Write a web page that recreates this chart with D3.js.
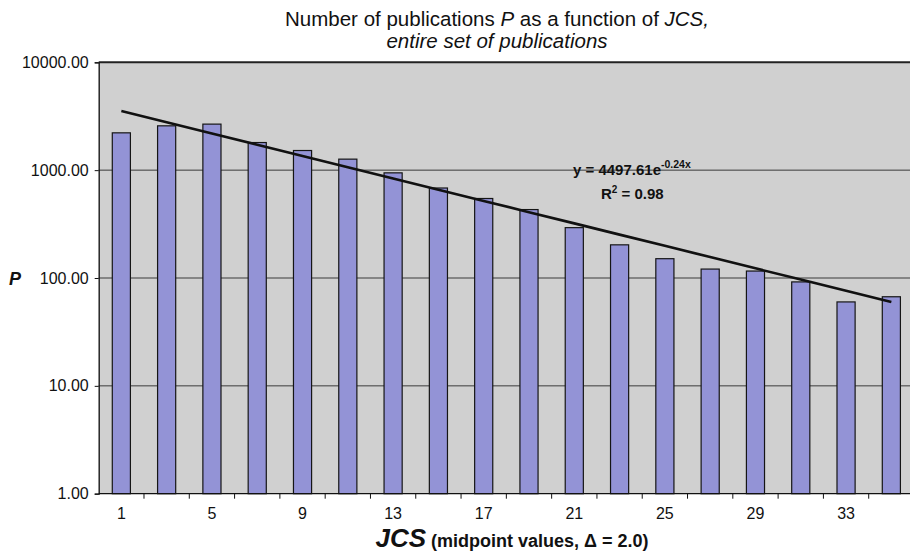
<!DOCTYPE html>
<html>
<head>
<meta charset="utf-8">
<script src="https://cdn.jsdelivr.net/npm/d3@7"></script>
<style>
  body { margin: 0; background: #fff; }
  svg { display: block; font-family: Arial, "Liberation Sans", sans-serif; }
</style>
</head>
<body>
<svg id="chart" width="910" height="553"></svg>
<script>
// JCS midpoints (bin width 2.0)
const categories = [1, 3, 5, 7, 9, 11, 13, 15, 17, 19, 21, 23, 25, 27, 29, 31, 33, 35];
// number of publications per bin
const pubCounts = [2218, 2576, 2672, 1803, 1521, 1265, 944, 683, 546, 431, 293, 203, 151, 121, 116, 92, 60, 67];
const xTickLabels = [1, 5, 9, 13, 17, 21, 25, 29, 33];
const yTicks = [1, 10, 100, 1000, 10000];
// exponential trend shown on the chart: y = a * e^(b*x), x = bin index
const trendA = 4497.61;
const trendB = -0.24;

const svg = d3.select("#chart");
const margin = { top: 62.3, left: 98.7, right: -4, bottom: 59.3 };
const W = 910, H = 553;

const x = d3.scaleBand()
    .domain(categories)
    .range([margin.left, W - margin.right])
    .paddingInner(0.6)
    .paddingOuter(0.3);

const y = d3.scaleLog()
    .domain([1, 10000])
    .range([H - margin.bottom, margin.top]);

// plot background
svg.append("rect")
    .attr("x", margin.left)
    .attr("y", margin.top)
    .attr("width", W - margin.right - margin.left)
    .attr("height", y(1) - y(10000))
    .attr("fill", "#d0d0d0");

// gridlines at the decades
svg.append("g")
    .selectAll("line")
    .data(yTicks.slice(1))
    .join("line")
    .attr("x1", margin.left)
    .attr("x2", W - margin.right)
    .attr("y1", d => y(d))
    .attr("y2", d => y(d))
    .attr("stroke", d => d === 10000 ? "#222" : "#3a3a3a")
    .attr("stroke-width", d => d === 10000 ? 2 : 1);

// bars
svg.append("g")
    .selectAll("rect")
    .data(categories)
    .join("rect")
    .attr("x", d => x(d))
    .attr("width", x.bandwidth())
    .attr("y", (d, i) => y(pubCounts[i]))
    .attr("height", (d, i) => y(1) - y(pubCounts[i]))
    .attr("fill", "#9393d6")
    .attr("stroke", "#151515")
    .attr("stroke-width", 1.2);

// trend line
const trend = d3.line()
    .x(d => x(d) + x.bandwidth() / 2)
    .y((d, i) => y(trendA * Math.exp(trendB * (i + 1))));
svg.append("path")
    .datum(categories)
    .attr("d", trend)
    .attr("fill", "none")
    .attr("stroke", "#111")
    .attr("stroke-width", 2.6);

// y axis
const yAxis = d3.axisLeft(y)
    .tickValues(yTicks)
    .tickSize(4)
    .tickPadding(6)
    .tickFormat(d3.format(".2f"));
const gy = svg.append("g")
    .attr("transform", `translate(${margin.left},0)`)
    .call(yAxis);
gy.select(".domain").attr("stroke", "#111").attr("stroke-width", 1.3);
gy.selectAll(".tick line").attr("stroke", "#111");
gy.selectAll("text")
    .attr("font-size", 16)
    .attr("font-family", "Arial, 'Liberation Sans', sans-serif")
    .attr("fill", "#111");

// x axis: ticks between categories, labels under every other bin
const xBase = y(1);
const gx = svg.append("g");
gx.append("line")
    .attr("x1", margin.left).attr("x2", W - margin.right)
    .attr("y1", xBase).attr("y2", xBase)
    .attr("stroke", "#111").attr("stroke-width", 1.3);
gx.selectAll(".xtick")
    .data(categories.slice(1))
    .join("line")
    .attr("class", "xtick")
    .attr("x1", d => x(d) - x.step() * x.paddingInner() / 2)
    .attr("x2", d => x(d) - x.step() * x.paddingInner() / 2)
    .attr("y1", xBase).attr("y2", xBase + 5)
    .attr("stroke", "#111");
gx.selectAll(".xlab")
    .data(xTickLabels)
    .join("text")
    .attr("class", "xlab")
    .attr("x", d => x(d) + x.bandwidth() / 2)
    .attr("y", 518.5)
    .attr("text-anchor", "middle")
    .attr("font-size", 16)
    .attr("fill", "#111")
    .text(d => d);

// title
const title = svg.append("g")
    .attr("text-anchor", "middle")
    .attr("font-size", 20.5)
    .attr("fill", "#111");
const t1 = title.append("text").attr("x", 497).attr("y", 25.5);
t1.append("tspan").text("Number of publications ");
t1.append("tspan").attr("font-style", "italic").text("P");
t1.append("tspan").text(" as a function of ");
t1.append("tspan").attr("font-style", "italic").text("JCS,");
title.append("text")
    .attr("x", 497).attr("y", 48)
    .attr("font-style", "italic")
    .text("entire set of publications");

// axis titles
const xTitle = svg.append("text")
    .attr("x", 512)
    .attr("y", 547)
    .attr("text-anchor", "middle")
    .attr("font-weight", "bold")
    .attr("fill", "#111");
xTitle.append("tspan").attr("font-size", 26).attr("font-style", "italic").text("JCS");
xTitle.append("tspan").attr("font-size", 18).text(" (midpoint values, \u0394 = 2.0)");

svg.append("text")
    .attr("x", 15)
    .attr("y", 285)
    .attr("text-anchor", "middle")
    .attr("font-size", 18)
    .attr("font-weight", "bold")
    .attr("font-style", "italic")
    .attr("fill", "#111")
    .text("P");

// trend equation
const eq = svg.append("text")
    .attr("font-weight", "bold")
    .attr("fill", "#111")
    .attr("font-size", 15);
eq.append("tspan").attr("x", 573).attr("y", 175).text("y = " + trendA + "e");
eq.append("tspan").attr("font-size", 10.5).attr("dy", -7).text(trendB + "x");
const r2 = svg.append("text")
    .attr("font-weight", "bold")
    .attr("fill", "#111")
    .attr("font-size", 15)
    .attr("x", 601)
    .attr("y", 199.3);
r2.append("tspan").text("R");
r2.append("tspan").attr("font-size", 10).attr("dy", -6).text("2");
r2.append("tspan").attr("dy", 6).text(" = 0.98");
</script>
</body>
</html>
